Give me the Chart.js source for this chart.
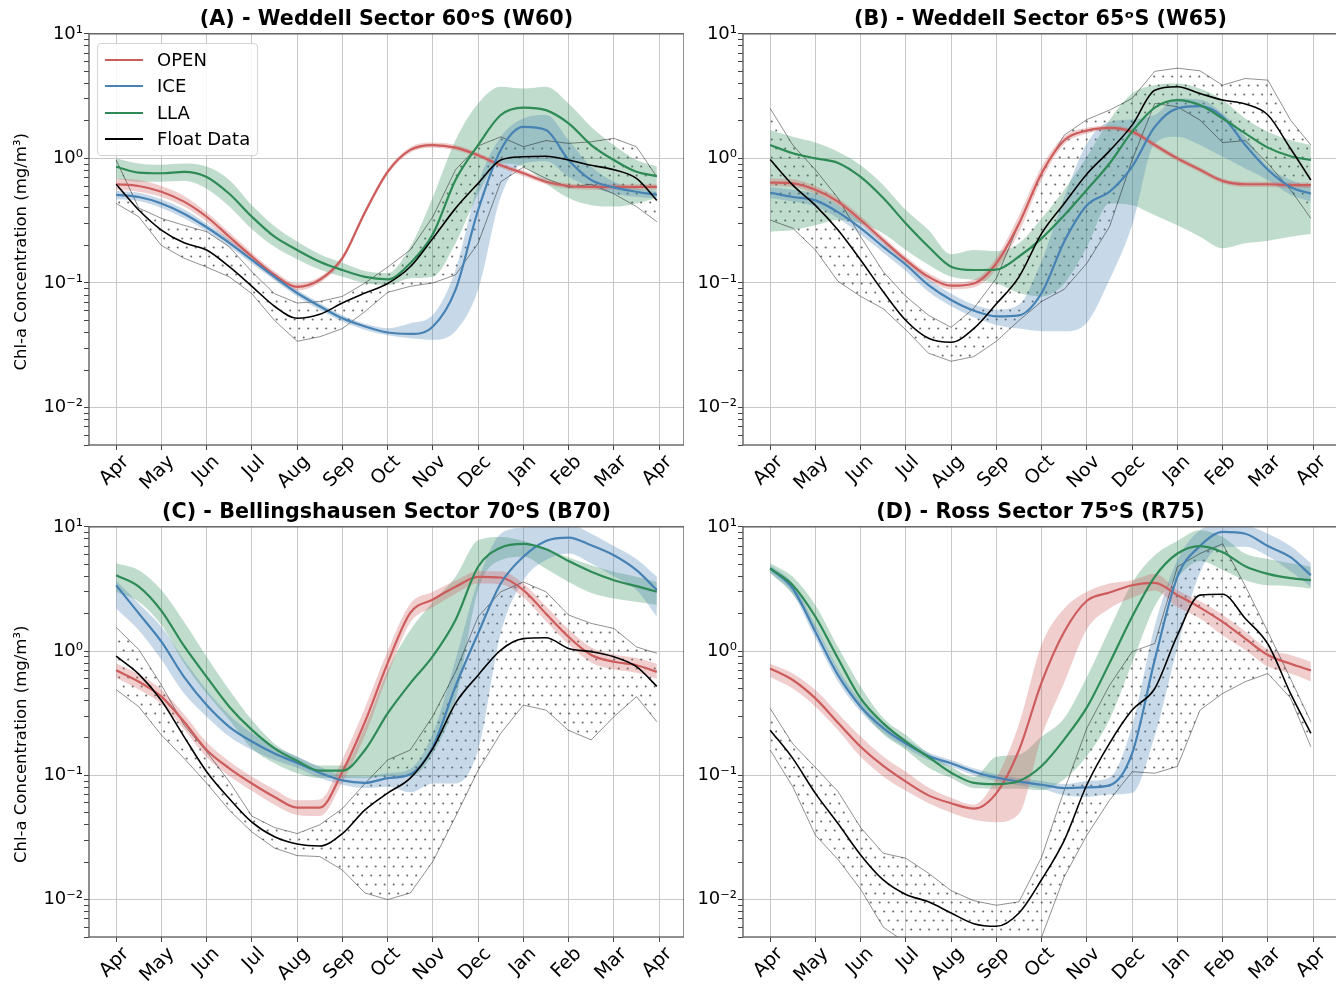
<!DOCTYPE html>
<html><head><meta charset="utf-8">
<script src="https://cdn.jsdelivr.net/npm/chart.js@4.4.1/dist/chart.umd.min.js"></script>
<style>
html,body{margin:0;padding:0;background:#fff;overflow:hidden;width:1336px;height:987px;position:relative;}
canvas{position:absolute;}
#legend{position:absolute;left:97px;top:43px;width:161px;height:113px;background:rgba(255,255,255,0.85);border:1px solid #d4d4d4;border-radius:4px;box-sizing:border-box;font-family:'DejaVu Sans';font-size:18px;z-index:5;color:#000;}
.lrow{position:absolute;left:0;width:100%;height:26px;}
.lsw{position:absolute;left:7px;top:12px;width:38px;height:2.2px;}
.ltx{position:absolute;left:59px;top:0;line-height:26px;white-space:nowrap;}
</style>
</head><body>
<canvas id="cA" width="684" height="505" style="left:0;top:0"></canvas>
<canvas id="cB" width="654" height="505" style="left:684px;top:0"></canvas>
<canvas id="cC" width="684" height="504" style="left:0;top:493px"></canvas>
<canvas id="cD" width="654" height="504" style="left:684px;top:493px"></canvas>
<div id="legend"></div>
<script>
// ---------- shared labels ----------
const months = [0,0.5,1,1.5,2,2.5,3,3.5,4,4.5,5,5.5,6,6.5,7,7.5,8,8.5,9,9.5,10,10.5,11,11.5,11.95];
const monthLabels = ['Apr','May','Jun','Jul','Aug','Sep','Oct','Nov','Dec','Jan','Feb','Mar','Apr'];
const yDecades = [0.01,0.1,1,10];
const yDecadeLabels = ['10\u207B\u00B2','10\u207B\u00B9','10\u2070','10\u00B9'];
const seriesNames = ['OPEN','ICE','LLA','Float Data'];
const panelTitles = ['(A) - Weddell Sector 60\u1D52S (W60)','(B) - Weddell Sector 65\u1D52S (W65)','(C) - Bellingshausen Sector 70\u1D52S (B70)','(D) - Ross Sector 75\u1D52S (R75)'];
const yAxisTitle = 'Chl-a Concentration (mg/m\u00B3)';

// ---------- Panel A ----------
const A_open    = [0.62,0.60,0.54,0.45,0.34,0.235,0.163,0.116,0.093,0.106,0.158,0.37,0.78,1.17,1.28,1.22,1.06,0.88,0.76,0.65,0.60,0.59,0.59,0.59,0.59];
const A_open_hi = [0.69,0.67,0.60,0.50,0.37,0.255,0.175,0.124,0.099,0.112,0.167,0.39,0.82,1.23,1.34,1.28,1.11,0.92,0.80,0.68,0.63,0.62,0.62,0.62,0.62];
const A_open_lo = [0.56,0.54,0.49,0.41,0.31,0.215,0.152,0.108,0.087,0.100,0.150,0.35,0.74,1.11,1.22,1.16,1.01,0.84,0.72,0.62,0.57,0.56,0.56,0.56,0.56];
const A_ice     = [0.51,0.49,0.435,0.36,0.28,0.21,0.153,0.112,0.083,0.065,0.052,0.0447,0.040,0.039,0.0447,0.088,0.385,1.17,1.79,1.69,0.97,0.67,0.585,0.54,0.51];
const A_ice_hi  = [0.55,0.53,0.47,0.39,0.30,0.225,0.163,0.12,0.088,0.069,0.055,0.047,0.0433,0.0475,0.0555,0.127,0.63,1.49,2.09,2.23,1.40,0.86,0.65,0.575,0.54];
const A_ice_lo  = [0.47,0.455,0.40,0.33,0.26,0.195,0.143,0.105,0.078,0.061,0.049,0.042,0.038,0.036,0.035,0.041,0.088,0.49,0.91,0.95,0.71,0.59,0.52,0.49,0.48];
const A_lla     = [0.857,0.77,0.76,0.78,0.71,0.52,0.34,0.235,0.184,0.148,0.127,0.112,0.107,0.144,0.247,0.67,1.28,2.23,2.56,2.44,1.91,1.28,0.97,0.78,0.72];
const A_lla_hi  = [1.0,0.91,0.89,0.91,0.86,0.67,0.42,0.285,0.215,0.17,0.145,0.125,0.12,0.195,0.49,1.40,2.76,3.76,3.64,3.76,2.76,1.79,1.28,0.97,0.86];
const A_lla_lo  = [0.69,0.65,0.65,0.66,0.57,0.41,0.27,0.195,0.155,0.128,0.112,0.10,0.096,0.109,0.112,0.208,0.52,0.91,0.86,0.63,0.48,0.42,0.41,0.435,0.48];
const A_flt     = [0.62,0.385,0.266,0.21,0.184,0.135,0.094,0.065,0.052,0.056,0.069,0.083,0.099,0.135,0.228,0.397,0.63,0.97,1.03,1.04,0.97,0.88,0.81,0.69,0.46];
const A_flt_hi  = [0.97,0.40,0.33,0.29,0.258,0.195,0.123,0.082,0.069,0.071,0.078,0.10,0.134,0.184,0.34,0.81,1.26,1.49,1.24,1.39,1.32,1.36,1.45,1.24,0.71];
const A_flt_lo  = [0.435,0.34,0.20,0.158,0.134,0.112,0.082,0.05,0.034,0.037,0.043,0.059,0.084,0.094,0.10,0.116,0.208,0.65,0.85,0.69,0.585,0.62,0.52,0.41,0.31];

// ---------- Panel B ----------
const B_open    = [0.64,0.63,0.56,0.45,0.32,0.22,0.153,0.112,0.095,0.099,0.144,0.30,0.76,1.40,1.67,1.76,1.64,1.28,1.0,0.81,0.66,0.62,0.62,0.61,0.61];
const B_open_hi = [0.69,0.68,0.60,0.48,0.345,0.235,0.163,0.12,0.101,0.106,0.16,0.35,0.86,1.50,1.76,1.84,1.72,1.35,1.05,0.85,0.69,0.65,0.65,0.64,0.64];
const B_open_lo = [0.60,0.59,0.52,0.42,0.30,0.205,0.143,0.105,0.089,0.092,0.128,0.255,0.67,1.30,1.58,1.68,1.56,1.21,0.95,0.77,0.63,0.59,0.59,0.58,0.58];
const B_ice     = [0.53,0.49,0.46,0.37,0.275,0.195,0.14,0.096,0.073,0.06,0.054,0.055,0.083,0.215,0.42,0.54,0.86,1.79,2.52,2.63,2.16,1.28,0.81,0.59,0.52];
const B_ice_hi  = [0.59,0.56,0.52,0.42,0.31,0.215,0.155,0.107,0.082,0.067,0.061,0.067,0.15,0.49,1.32,1.97,2.05,2.23,3.03,2.97,2.30,1.49,0.86,0.67,0.59];
const B_ice_lo  = [0.48,0.45,0.41,0.33,0.245,0.175,0.125,0.085,0.065,0.053,0.046,0.043,0.041,0.041,0.048,0.106,0.29,1.32,1.49,1.28,1.03,0.83,0.67,0.51,0.45];
const B_lla     = [1.28,1.10,1.0,0.92,0.71,0.48,0.30,0.195,0.135,0.127,0.128,0.163,0.228,0.35,0.56,0.91,1.64,2.56,2.94,2.68,2.09,1.59,1.22,1.04,0.97];
const B_lla_hi  = [1.69,1.49,1.34,1.13,0.88,0.61,0.385,0.266,0.17,0.184,0.18,0.208,0.33,0.56,1.03,2.03,3.32,3.87,4.0,3.64,2.94,2.09,1.64,1.40,1.28];
const B_lla_lo  = [0.258,0.266,0.29,0.32,0.30,0.25,0.184,0.14,0.112,0.106,0.099,0.083,0.078,0.099,0.195,0.435,0.42,0.35,0.29,0.235,0.19,0.208,0.218,0.235,0.247];
const B_flt     = [0.98,0.61,0.42,0.266,0.153,0.085,0.05,0.036,0.0334,0.043,0.068,0.112,0.25,0.435,0.75,1.15,1.85,3.53,3.76,3.32,2.94,2.73,2.23,1.20,0.67];
const B_flt_hi  = [2.52,1.28,0.81,0.48,0.235,0.123,0.078,0.055,0.044,0.0625,0.109,0.30,0.76,1.54,2.05,2.44,3.03,5.0,5.3,5.05,3.87,4.38,4.25,2.03,1.28];
const B_flt_lo  = [0.32,0.275,0.184,0.103,0.078,0.062,0.042,0.0273,0.0235,0.0256,0.034,0.05,0.071,0.089,0.144,0.283,0.97,2.76,2.6,2.03,1.34,1.39,0.91,0.56,0.33];

// ---------- Panel C ----------
const C_open    = [0.70,0.567,0.43,0.27,0.16,0.114,0.086,0.067,0.055,0.055,0.107,0.27,0.80,2.03,2.6,3.29,3.96,3.91,3.1,2.0,1.30,0.93,0.82,0.77,0.68];
const C_open_hi = [0.80,0.65,0.49,0.31,0.185,0.13,0.098,0.077,0.063,0.064,0.135,0.35,1.0,2.4,3.0,3.7,4.4,4.4,3.5,2.3,1.5,1.07,0.94,0.88,0.79];
const C_open_lo = [0.61,0.49,0.375,0.235,0.14,0.099,0.075,0.058,0.048,0.047,0.088,0.21,0.64,1.7,2.25,2.9,3.5,3.45,2.7,1.74,1.13,0.81,0.71,0.67,0.60];
const C_ice     = [3.39,2.01,1.19,0.62,0.368,0.246,0.187,0.15,0.126,0.105,0.091,0.087,0.095,0.102,0.17,0.52,1.39,3.5,5.75,7.7,8.2,7.1,5.9,4.48,3.1];
const C_ice_hi  = [3.7,2.42,1.57,0.85,0.486,0.306,0.218,0.17,0.142,0.117,0.10,0.098,0.104,0.113,0.218,0.85,3.7,8.8,9.9,10.5,10.5,8.8,7.0,5.5,3.96];
const C_ice_lo  = [2.2,1.47,0.85,0.457,0.296,0.205,0.16,0.133,0.115,0.095,0.084,0.079,0.081,0.073,0.086,0.086,0.16,1.39,3.7,5.4,6.1,5.07,4.0,3.1,1.89];
const C_lla     = [4.08,3.3,2.11,1.10,0.62,0.357,0.232,0.165,0.131,0.109,0.109,0.16,0.315,0.55,0.91,1.78,4.77,6.8,7.3,6.6,5.3,4.35,3.72,3.33,3.0];
const C_lla_hi  = [5.1,4.48,3.1,1.72,0.90,0.486,0.279,0.18,0.141,0.12,0.12,0.246,0.70,1.47,2.5,3.96,7.8,8.3,7.7,6.7,5.67,4.9,4.35,3.96,3.6];
const C_lla_lo  = [3.0,2.5,1.62,0.80,0.456,0.279,0.165,0.125,0.104,0.095,0.095,0.095,0.098,0.098,0.15,0.40,3.1,5.4,5.75,4.6,3.6,2.94,2.65,2.49,2.35];
const C_flt     = [0.91,0.653,0.40,0.205,0.107,0.065,0.042,0.032,0.028,0.027,0.034,0.0527,0.072,0.095,0.165,0.38,0.64,1.02,1.26,1.28,1.05,0.99,0.90,0.75,0.52];
const C_flt_hi  = [1.55,1.03,0.533,0.254,0.155,0.089,0.047,0.038,0.034,0.04,0.054,0.086,0.133,0.16,0.30,0.68,1.89,3.0,3.6,3.0,1.95,1.67,1.52,1.08,0.96];
const C_flt_lo  = [0.49,0.357,0.211,0.137,0.0865,0.0525,0.035,0.026,0.0226,0.0222,0.0173,0.0113,0.01,0.0113,0.0203,0.0465,0.11,0.218,0.368,0.335,0.23,0.193,0.296,0.43,0.27];

// ---------- Panel D ----------
const D_open    = [0.725,0.585,0.416,0.265,0.17,0.119,0.089,0.069,0.0596,0.054,0.072,0.16,0.56,1.43,2.54,2.96,3.39,3.54,2.82,2.24,1.72,1.26,0.93,0.79,0.70];
const D_open_hi = [0.79,0.66,0.486,0.315,0.205,0.142,0.107,0.08,0.066,0.058,0.095,0.26,1.13,2.2,3.0,3.5,3.72,4.2,3.1,2.53,1.96,1.44,1.04,0.93,0.82];
const D_open_lo = [0.62,0.50,0.357,0.231,0.141,0.098,0.075,0.0596,0.05,0.044,0.042,0.049,0.205,0.56,1.5,2.2,2.69,3.08,2.26,1.83,1.34,1.02,0.75,0.66,0.57];
const D_ice     = [4.63,3.19,1.43,0.64,0.357,0.24,0.18,0.143,0.125,0.107,0.096,0.089,0.084,0.079,0.08,0.083,0.15,0.85,3.96,7.0,9.1,8.8,7.0,5.7,4.08];
const D_ice_hi  = [4.9,3.5,1.62,0.72,0.395,0.262,0.194,0.153,0.133,0.114,0.102,0.095,0.09,0.085,0.09,0.096,0.25,1.59,5.4,9.4,10.5,10.3,8.8,7.0,5.1];
const D_ice_lo  = [4.3,2.9,1.27,0.57,0.325,0.22,0.167,0.133,0.117,0.1,0.09,0.083,0.078,0.069,0.067,0.07,0.072,0.207,1.06,4.3,6.9,6.9,5.8,4.4,3.3];
const D_lla     = [4.63,3.39,1.89,0.873,0.416,0.262,0.187,0.14,0.105,0.087,0.085,0.09,0.119,0.195,0.352,0.80,1.89,3.96,6.1,7.0,6.25,4.82,4.18,3.86,3.72];
const D_lla_hi  = [5.1,3.96,2.34,1.08,0.52,0.29,0.211,0.15,0.117,0.097,0.141,0.147,0.205,0.29,0.62,1.50,3.54,5.9,7.7,9.4,8.3,6.1,5.5,5.1,4.77];
const D_lla_lo  = [4.26,2.87,1.52,0.68,0.346,0.214,0.16,0.115,0.095,0.079,0.078,0.078,0.076,0.093,0.143,0.282,0.806,2.3,3.9,5.3,4.5,3.72,3.38,3.33,3.19];
const D_flt     = [0.231,0.137,0.0716,0.041,0.0229,0.0144,0.011,0.0096,0.0078,0.0064,0.0061,0.0078,0.0145,0.030,0.084,0.181,0.335,0.50,1.34,2.82,2.87,1.83,1.14,0.456,0.218];
const D_flt_hi  = [0.346,0.179,0.116,0.074,0.038,0.0236,0.0215,0.0163,0.0118,0.0098,0.009,0.0096,0.022,0.076,0.24,0.53,0.99,1.15,4.77,6.1,7.3,3.35,1.43,0.60,0.27];
const D_flt_lo  = [0.16,0.081,0.033,0.021,0.0121,0.006,0.0045,0.004,0.0037,0.0037,0.0037,0.0042,0.005,0.0153,0.033,0.063,0.107,0.104,0.118,0.335,0.456,0.567,0.66,0.42,0.17];

// ---------- styling ----------
const styles = [
  {line:'rgb(205,92,92)', band:'rgba(205,92,92,0.3)', width:2.2},
  {line:'rgb(70,130,180)', band:'rgba(70,130,180,0.3)', width:2.2},
  {line:'rgb(46,139,87)', band:'rgba(46,139,87,0.3)', width:2.2},
  {line:'#000000', band:null, width:1.6}
];
Chart.defaults.font.family = "'DejaVu Sans', sans-serif";
Chart.defaults.color = '#000';

function dotPattern(){
  const c = document.createElement('canvas'); c.width = 9; c.height = 18;
  const g = c.getContext('2d');
  g.fillStyle = 'rgba(70,70,70,0.8)';
  g.beginPath(); g.arc(2.2,4.5,1.05,0,Math.PI*2); g.fill();
  g.beginPath(); g.arc(6.7,13.5,1.05,0,Math.PI*2); g.fill();
  return g.createPattern(c,'repeat');
}
const pts = arr => months.map((x,i)=>({x:x, y:arr[i]}));
const isDecade = v => yDecades.some(d => Math.abs(d-v)/d < 1e-6);
const yTickValues = [];
[0.001,0.01,0.1,1].forEach(d=>{ for(let k=1;k<=9;k++){ const v=+(d*k).toPrecision(3); if(v>=0.005 && v<=10) yTickValues.push(v);} });
yTickValues.push(10);

function buildDatasets(series){
  const ds = [];
  series.forEach((s,si)=>{
    const st = styles[si];
    const isFloat = si === 3;
    const bandLine = isFloat ? {borderColor:'rgba(0,0,0,0.55)', borderWidth:0.8} : {borderColor:'rgba(0,0,0,0)', borderWidth:0};
    ds.push(Object.assign({data:pts(s[1]), pointRadius:0, fill:false, order:20, tension:0,
      cubicInterpolationMode: isFloat?'default':'monotone'}, bandLine));
    ds.push(Object.assign({data:pts(s[2]), pointRadius:0, fill:'-1', order:20, tension:0,
      cubicInterpolationMode: isFloat?'default':'monotone',
      backgroundColor: isFloat ? dotPattern() : st.band}, bandLine));
    ds.push({data:pts(s[0]), pointRadius:0, fill:false, borderColor:st.line, borderWidth:st.width,
      cubicInterpolationMode:'monotone', order: 3-si});
  });
  return ds;
}

const framePlugin = {id:'frame', afterDraw(chart){
  const {ctx, chartArea:a} = chart; ctx.save();
  ctx.strokeStyle = '#555'; ctx.lineWidth = 1.3;
  ctx.strokeRect(a.left, a.top, a.right-a.left, a.bottom-a.top); ctx.restore();
}};

function makeChart(id, title, series, yw, showYTitle){
  return new Chart(document.getElementById(id), {
    type:'line',
    data:{datasets: buildDatasets(series)},
    plugins:[framePlugin],
    options:{
      responsive:false, animation:false, devicePixelRatio:1, events:[],
      layout:{padding:{top:7,left:0,right:0,bottom:0}},
      plugins:{
        legend:{display:false}, tooltip:{enabled:false},
        filler:{drawTime:'beforeDatasetsDraw'},
        title:{display:true, text:title, fullSize:false, font:{size:20.7, weight:'bold'}, padding:{top:0,bottom:2}, color:'#000'}
      },
      scales:{
        x:{type:'linear', min:-0.6, max:12.55,
          afterBuildTicks: ax => { ax.ticks = monthLabels.map((_,i)=>({value:i})); },
          afterFit: s => { s.height = 60; },
          ticks:{autoSkip:false, minRotation:45, maxRotation:45, padding:1, labelOffset:10, font:{size:19}, color:'#000',
            callback:(v,i)=>monthLabels[i]},
          grid:{color:'#c8c8c8', lineWidth:1, tickLength:5, tickColor:'#444', drawTicks:true},
          border:{display:false}
        },
        y:{type:'logarithmic', min:0.005, max:10,
          afterBuildTicks: ax => { ax.ticks = yTickValues.map(v=>({value:v})); },
          afterFit: s => { s.width = yw; },
          ticks:{autoSkip:false, padding:1, font:{size:18}, color:'#000',
            callback:(v)=>{ const k = yDecades.findIndex(d=>Math.abs(d-v)/d<1e-6); return k>=0 ? yDecadeLabels[k] : ''; }},
          grid:{color:(c)=> (c.tick && isDecade(c.tick.value)) ? '#c8c8c8' : 'rgba(0,0,0,0)', lineWidth:1, tickLength:5, tickColor:'#444'},
          border:{display:false},
          title:{display:showYTitle, text:yAxisTitle + '\u2002\u2002\u2002', font:{size:16.5}, padding:{top:12,bottom:0}, color:'#000'}
        }
      }
    }
  });
}

makeChart('cA', panelTitles[0], [[A_open,A_open_lo,A_open_hi],[A_ice,A_ice_lo,A_ice_hi],[A_lla,A_lla_lo,A_lla_hi],[A_flt,A_flt_lo,A_flt_hi]], 89, true);
makeChart('cB', panelTitles[1], [[B_open,B_open_lo,B_open_hi],[B_ice,B_ice_lo,B_ice_hi],[B_lla,B_lla_lo,B_lla_hi],[B_flt,B_flt_lo,B_flt_hi]], 59, false);
makeChart('cC', panelTitles[2], [[C_open,C_open_lo,C_open_hi],[C_ice,C_ice_lo,C_ice_hi],[C_lla,C_lla_lo,C_lla_hi],[C_flt,C_flt_lo,C_flt_hi]], 89, true);
makeChart('cD', panelTitles[3], [[D_open,D_open_lo,D_open_hi],[D_ice,D_ice_lo,D_ice_hi],[D_lla,D_lla_lo,D_lla_hi],[D_flt,D_flt_lo,D_flt_hi]], 59, false);

// legend (panel A)
const lg = document.getElementById('legend');
const rowTops = [3,29,56,82];
seriesNames.forEach((n,i)=>{
  const r = document.createElement('div'); r.className='lrow'; r.style.top = rowTops[i]+'px';
  const sw = document.createElement('div'); sw.className='lsw'; sw.style.background = styles[i].line;
  const tx = document.createElement('div'); tx.className='ltx'; tx.textContent = n;
  r.appendChild(sw); r.appendChild(tx); lg.appendChild(r);
});
</script>
</body></html>
